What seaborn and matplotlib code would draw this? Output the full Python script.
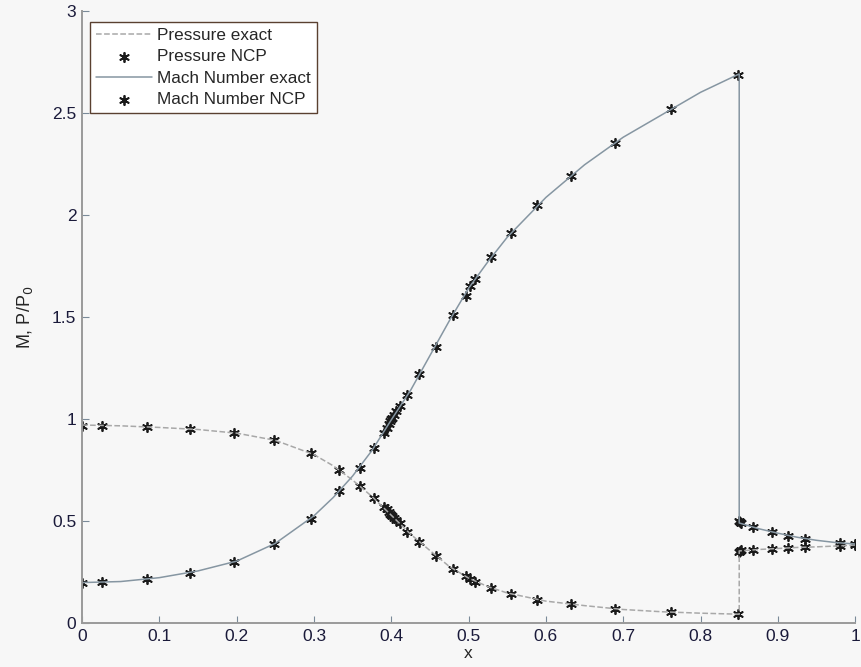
import matplotlib
matplotlib.use("Agg")
import matplotlib.pyplot as plt
import numpy as np
import seaborn as sns

# exact solution
x_exact = [0.0, 0.05, 0.10, 0.15, 0.20, 0.25, 0.30, 0.325, 0.35, 0.375, 0.40, 0.425, 0.45,
           0.475, 0.50, 0.525, 0.55, 0.60, 0.65, 0.70, 0.75, 0.80, 0.85, 0.85, 0.875, 0.90,
           0.925, 0.95, 0.975, 1.0]
mach_exact = [0.198, 0.203, 0.222, 0.255, 0.303, 0.39, 0.525, 0.615, 0.72, 0.845, 0.995, 1.14,
              1.31, 1.48, 1.64, 1.77, 1.89, 2.085, 2.245, 2.38, 2.49, 2.60, 2.69, 0.49, 0.462,
              0.44, 0.42, 0.405, 0.394, 0.387]
pressure_exact = [0.970, 0.966, 0.958, 0.948, 0.930, 0.895, 0.825, 0.77, 0.70, 0.62, 0.528,
                  0.435, 0.355, 0.277, 0.22, 0.178, 0.147, 0.107, 0.085, 0.066, 0.055, 0.048,
                  0.043, 0.353, 0.36, 0.365, 0.37, 0.373, 0.377, 0.382]

# NCP solution points
x_ncp = [0.0, 0.026, 0.084, 0.140, 0.196, 0.248, 0.296, 0.333, 0.359, 0.378, 0.390, 0.394,
         0.397, 0.399, 0.400, 0.401, 0.403, 0.406, 0.411, 0.421, 0.436, 0.458, 0.480, 0.497,
         0.502, 0.508, 0.529, 0.555, 0.589, 0.633, 0.690, 0.762, 0.849, 0.850, 0.851, 0.852,
         0.868, 0.892, 0.913, 0.935, 0.981, 1.0]
mach_ncp = [0.198, 0.200, 0.214, 0.247, 0.299, 0.386, 0.51, 0.647, 0.761, 0.859, 0.93, 0.955,
            0.975, 0.99, 0.997, 1.005, 1.02, 1.04, 1.064, 1.118, 1.22, 1.354, 1.51, 1.603,
            1.649, 1.686, 1.791, 1.91, 2.046, 2.191, 2.351, 2.52, 2.686, 0.498, 0.494, 0.49,
            0.469, 0.448, 0.428, 0.412, 0.391, 0.387]
pressure_ncp = [0.966, 0.966, 0.962, 0.951, 0.933, 0.897, 0.832, 0.75, 0.672, 0.611, 0.57,
                0.556, 0.544, 0.534, 0.530, 0.525, 0.516, 0.505, 0.49, 0.448, 0.396, 0.33,
                0.263, 0.228, 0.215, 0.203, 0.173, 0.142, 0.113, 0.092, 0.069, 0.052, 0.043,
                0.350, 0.353, 0.356, 0.358, 0.363, 0.369, 0.371, 0.377, 0.382]

sns.set_style("ticks")
plt.rcParams['font.family'] = ['Liberation Sans', 'DejaVu Sans']
bg = '#f7f7f7'

fig = plt.figure(figsize=(8.62, 6.67), dpi=100, facecolor=bg)
ax = fig.add_axes([0.0951, 0.066, 0.897, 0.918], facecolor=bg)

star = (6, 2, 0)
sns.lineplot(x=x_exact, y=pressure_exact, ax=ax, estimator=None, sort=False,
             color='#a8a8a8', linestyle='--', dashes=(6, 4), lw=1.1, label='Pressure exact')
sns.scatterplot(x=x_ncp, y=pressure_ncp, ax=ax, marker=star, s=45, color='#1a1a1a',
                linewidth=1.3, label='Pressure NCP')
sns.lineplot(x=x_exact, y=mach_exact, ax=ax, estimator=None, sort=False,
             color='#8696a2', lw=1.1, label='Mach Number exact')
sns.scatterplot(x=x_ncp, y=mach_ncp, ax=ax, marker=star, s=45, color='#1a1a1a',
                linewidth=1.3, label='Mach Number NCP')

ax.set_xlim(0, 1)
ax.set_ylim(0, 3)
ax.set_xticks(np.arange(0, 1.01, 0.1))
ax.set_xticklabels(['0', '0.1', '0.2', '0.3', '0.4', '0.5', '0.6', '0.7', '0.8', '0.9', '1'])
ax.set_yticks(np.arange(0, 3.01, 0.5))
ax.set_yticklabels(['0', '0.5', '1', '1.5', '2', '2.5', '3'])
ax.tick_params(direction='in', length=5, width=0.8, color='#7a8a99', labelsize=12.5,
               labelcolor='#1a1a3a', pad=4)
for side in ['top', 'right']:
    ax.spines[side].set_visible(False)
for side in ['left', 'bottom']:
    ax.spines[side].set_color('#9a9a9a')
    ax.spines[side].set_linewidth(1.4)

ax.set_xlabel('x', fontsize=12.5, labelpad=2)
ax.set_ylabel('M, P/P$_0$', fontsize=13, labelpad=12)

leg = ax.legend(loc='upper left', bbox_to_anchor=(0.0103, 0.982), borderaxespad=0,
                fontsize=12.3, handlelength=3.3, labelspacing=0.38, handletextpad=0.3,
                borderpad=0.35, fancybox=False, framealpha=1, edgecolor='#5a4030')
leg.get_frame().set_linewidth(1.0)
leg.get_frame().set_facecolor('white')

fig.savefig('out.png', dpi=100, facecolor=bg)
